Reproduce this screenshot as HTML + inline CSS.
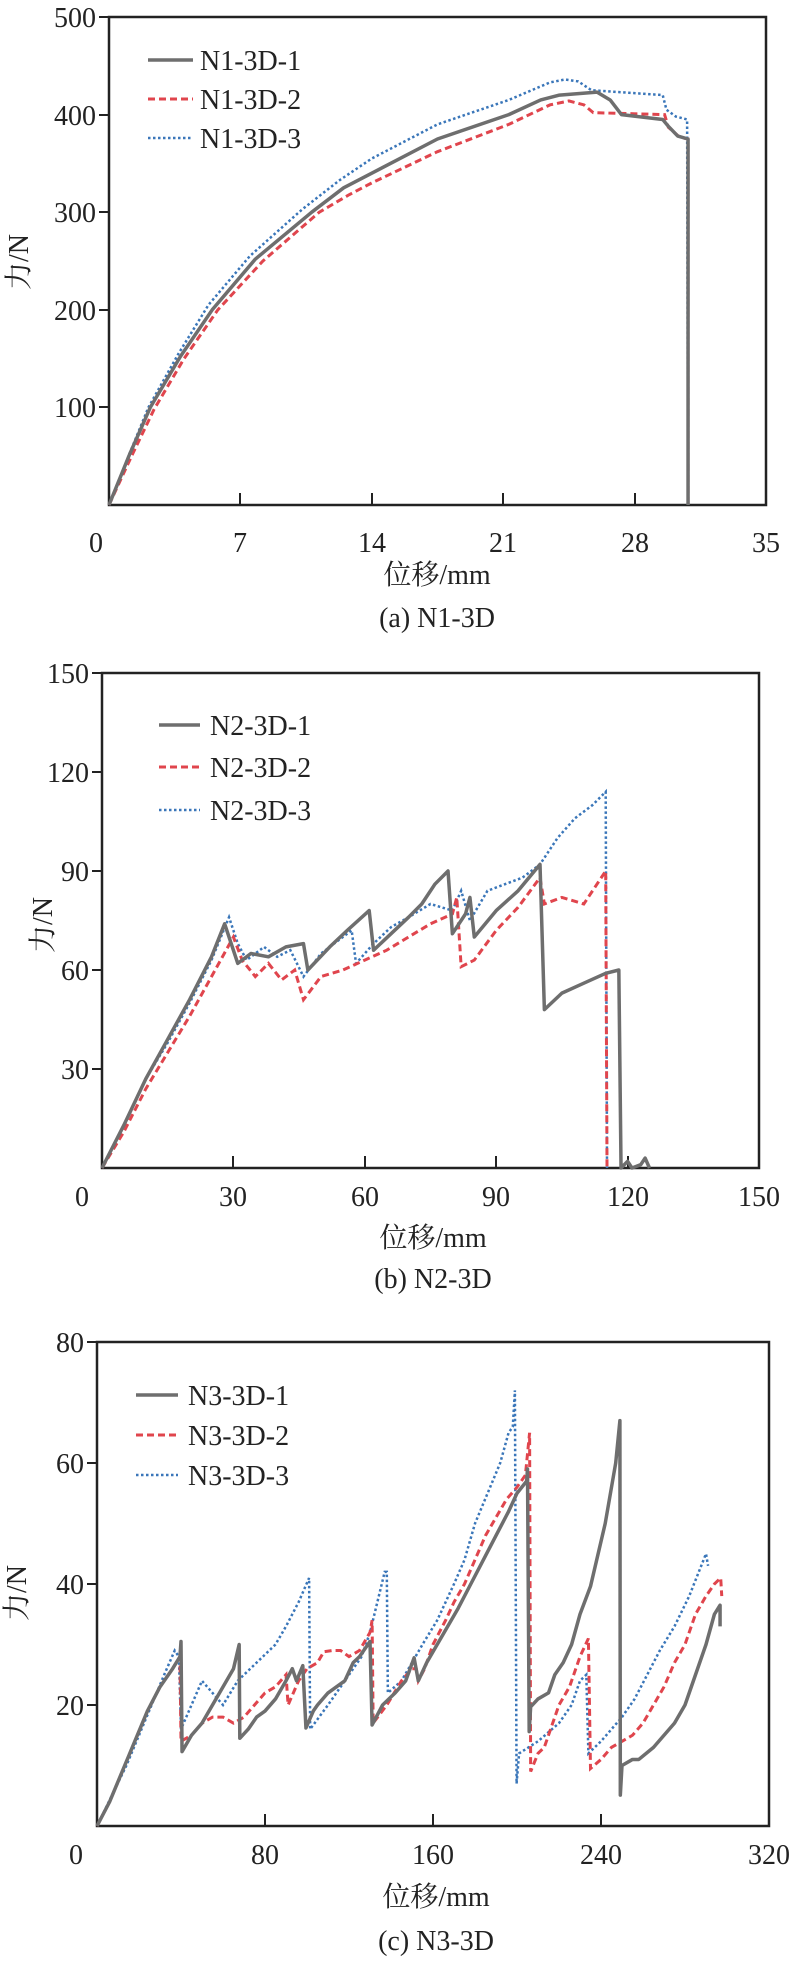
<!DOCTYPE html>
<html><head><meta charset="utf-8"><style>
html,body{margin:0;padding:0;background:#fff;}
svg{display:block;}
text{font-family:"Liberation Serif","Noto Serif CJK SC","Noto Sans CJK SC",serif;fill:#222;font-size:28px;}
.g{fill:none;stroke:#6e6e6e;stroke-width:3.5;vector-effect:non-scaling-stroke;stroke-linejoin:round;}
.r{fill:none;stroke:#e0454d;stroke-width:3;stroke-dasharray:7 4;vector-effect:non-scaling-stroke;}
.b{fill:none;stroke:#3a76b9;stroke-width:2.5;stroke-dasharray:2.5 2.5;vector-effect:non-scaling-stroke;}
.ax{fill:none;stroke:#222;stroke-width:2.5;}
</style></head><body>
<svg width="789" height="1961" viewBox="0 0 789 1961" xmlns="http://www.w3.org/2000/svg">
<!-- Panel A -->
<rect class="ax" x="109" y="17" width="657" height="488"/>
<g stroke="#222" stroke-width="2">
<line x1="99" y1="17" x2="109" y2="17"/><line x1="99" y1="115" x2="109" y2="115"/><line x1="99" y1="212" x2="109" y2="212"/><line x1="99" y1="310" x2="109" y2="310"/><line x1="99" y1="407" x2="109" y2="407"/>
<line x1="240" y1="505" x2="240" y2="493"/><line x1="372" y1="505" x2="372" y2="493"/><line x1="503" y1="505" x2="503" y2="493"/><line x1="635" y1="505" x2="635" y2="493"/>
</g>
<g text-anchor="end"><text x="96" y="27">500</text><text x="96" y="125">400</text><text x="96" y="222">300</text><text x="96" y="320">200</text><text x="96" y="417">100</text></g>
<g text-anchor="middle"><text x="96" y="552">0</text><text x="240" y="552">7</text><text x="372" y="552">14</text><text x="503" y="552">21</text><text x="635" y="552">28</text><text x="766" y="552">35</text>
<text x="437" y="584">位移/mm</text><text x="437" y="627">(a) N1-3D</text></g>
<text transform="translate(28,262) rotate(-90)" text-anchor="middle">力/N</text>
<g transform="translate(109,505) scale(18.77,-0.976)">
<polyline class="b" points="0,0 1.1,53 2.1,100 3.7,155 5.3,205 7.5,255 10.3,303 12.3,333 14,355 17.5,390 21.3,415 23.5,433 24.3,436 25,434 25.7,425 29.5,420 29.7,405 30.2,398 30.8,395 30.85,0"/>
<polyline class="r" points="0,0 1.2,50 2.4,98 4,150 5.8,200 8.2,250 11.2,300 12.8,318 14,330 17.5,362 21.3,390 23.5,410 24.5,414 25.3,410 25.8,402 29.6,400 29.8,387 30.4,377 30.85,375 30.85,0"/>
<polyline class="g" points="0,0 1.1,52 2.2,100 3.8,152 5.5,200 7.8,252 10.8,300 12.5,325 14,340 17.5,375 21.3,400 23,415 24,420 26,423 26.7,415 27.3,400 29.5,395 29.8,388 30.3,378 30.85,375 30.85,0"/>
</g>
<line class="g" x1="148" y1="60" x2="193" y2="60"/><line class="r" x1="148" y1="99" x2="193" y2="99"/><line class="b" x1="148" y1="138" x2="193" y2="138"/>
<text x="200" y="70">N1-3D-1</text><text x="200" y="109">N1-3D-2</text><text x="200" y="148">N1-3D-3</text>

<!-- Panel B -->
<rect class="ax" x="102" y="673" width="657" height="495"/>
<g stroke="#222" stroke-width="2">
<line x1="92" y1="673" x2="102" y2="673"/><line x1="92" y1="772" x2="102" y2="772"/><line x1="92" y1="871" x2="102" y2="871"/><line x1="92" y1="970" x2="102" y2="970"/><line x1="92" y1="1069" x2="102" y2="1069"/>
<line x1="233" y1="1168" x2="233" y2="1156"/><line x1="365" y1="1168" x2="365" y2="1156"/><line x1="496" y1="1168" x2="496" y2="1156"/><line x1="628" y1="1168" x2="628" y2="1156"/>
</g>
<g text-anchor="end"><text x="89" y="683">150</text><text x="89" y="782">120</text><text x="89" y="881">90</text><text x="89" y="980">60</text><text x="89" y="1079">30</text></g>
<g text-anchor="middle"><text x="82" y="1206">0</text><text x="233" y="1206">30</text><text x="365" y="1206">60</text><text x="496" y="1206">90</text><text x="628" y="1206">120</text><text x="759" y="1206">150</text>
<text x="433" y="1247">位移/mm</text><text x="433" y="1288">(b) N2-3D</text></g>
<text transform="translate(52,925) rotate(-90)" text-anchor="middle">力/N</text>
<g transform="translate(102,1168) scale(4.38,-3.3)">
<polyline class="b" points="0,0 5,13 10,27 15,38 20,50 25,63 29,76 31,68 33,63 37,67 40,64 43,66 46,58 50,65 55,70 57,72 58,62 62,68 66,73 70,76 75,80 80,78 82,84 84,75 88,84 92,86 96,88 100,92 104,100 108,106 112,110 115,114 115.3,0"/>
<polyline class="r" points="0,0 5,11 10,24 15,35 20,46 25,58 30,70 32,63 35,58 38,62 41,57 44,60 46,51 50,58 55,60 60,63 65,66 70,70 75,74 80,77 81,82 82,61 85,63 90,72 95,79 100,88 101,80 105,82 110,80 113,86 115,90 115.3,0"/>
<polyline class="g" points="0,0 5,13 10,27 15,39 20,51 25,64 28,74 31,62 34,65 38,64 42,67 46,68 47,60 52,67 56,72 61,78 62,66 66,71 70,76 73,80 76,86 79,90 80,71 83,77 84,82 85,70 90,78 95,84 100,92 101,48 105,53 110,56 115,59 118,60 118.5,0 120,2 121,0 123,1 124,3 125,0"/>
</g>
<line class="g" x1="159" y1="725" x2="200" y2="725"/><line class="r" x1="159" y1="767" x2="200" y2="767"/><line class="b" x1="159" y1="810" x2="200" y2="810"/>
<text x="210" y="735">N2-3D-1</text><text x="210" y="777">N2-3D-2</text><text x="210" y="820">N2-3D-3</text>

<!-- Panel C -->
<rect class="ax" x="97" y="1342" width="672" height="484"/>
<g stroke="#222" stroke-width="2">
<line x1="87" y1="1342" x2="97" y2="1342"/><line x1="87" y1="1463" x2="97" y2="1463"/><line x1="87" y1="1584" x2="97" y2="1584"/><line x1="87" y1="1705" x2="97" y2="1705"/>
<line x1="265" y1="1826" x2="265" y2="1814"/><line x1="433" y1="1826" x2="433" y2="1814"/><line x1="601" y1="1826" x2="601" y2="1814"/>
</g>
<g text-anchor="end"><text x="84" y="1352">80</text><text x="84" y="1473">60</text><text x="84" y="1594">40</text><text x="84" y="1715">20</text></g>
<g text-anchor="middle"><text x="76" y="1864">0</text><text x="265" y="1864">80</text><text x="433" y="1864">160</text><text x="601" y="1864">240</text><text x="769" y="1864">320</text>
<text x="436" y="1906">位移/mm</text><text x="436" y="1950">(c) N3-3D</text></g>
<text transform="translate(26,1593) rotate(-90)" text-anchor="middle">力/N</text>
<g transform="translate(97,1826) scale(2.1,-6.05)">
<polyline class="b" points="0,0 7,5 14,10 20,15 26,20 32,25 37,29 39,28 40,16 45,20 50,24 55,22 60,20 67,24 73,26 79,28 85,30 90,33 96,37 101,41 101.5,16 110,20 120,25 126,28 130,32 137,42 138,42 138.5,22 145,24 150,27 155,30 162,34 170,40 175,44 180,50 186,55 192,60 196,65 198,66 199,72 199.8,7 201,12 210,14 220,17 226,20 230,24 233,25 234,12 240,14 250,18 256,21 262,25 268,29 275,33 282,38 290,45 291,43"/>
<polyline class="r" points="0,0 6,4 12,9 18,14 24,19 30,23 36,26 39.5,28 40,14 45,15 50,17 55,18 60,18 65,17 70,18 75,20 80,22 85,23 90,25 91,20 96,24 100,26 105,27 108,28.8 112,29 116,29 120,28 125,29 130,32 131,34 131.5,17 138,20 145,24 150,26 152,26 153,24 156,26 160,30 166,34 170,37 175,40 180,44 185,48 190,51 195,54 200,56 204,58 206,65 206.5,9 210,12 213,13 220,20 225,23 230,28 234,31 235,9.5 240,11 245,13 250,14 255,15 260,17 265,20 270,23 275,27 280,30 285,35 290,38 294,40 297,41 297.5,38"/>
<polyline class="g" points="0,0 6,4 12,9 18,14 24,19 30,23 36,26 39.5,28 40,30.5 40.5,12.3 45,15 50,17 55,20 60,23 65,26 67.7,30 68,14.5 72,16 76,18 80,19 85,21 90,24 93,26 95,24 98,26.5 99.5,16.2 103,19 105,20 110,22 118,24 122,27 125,28 130,30.5 131,16.7 136,20 142,22 147,24 151,27.8 153,24 157,27 162,30 167,33 172,36 178,40 184,44 190,48 196,52 200,55 204.6,57 205,59 205.8,15.6 206.5,19.7 210,21 215,22 218,25 222,27 226,30 230,35 235,39.6 242,50 247,60 249,67 249.2,5.1 250,10 255,11 258,11 265,13 270,15 275,17 280,20 285,25 290,30 294,35 296.7,36.5 296.7,33"/>
</g>
<line class="g" x1="136" y1="1395" x2="178" y2="1395"/><line class="r" x1="136" y1="1435" x2="178" y2="1435"/><line class="b" x1="136" y1="1475" x2="178" y2="1475"/>
<text x="188" y="1405">N3-3D-1</text><text x="188" y="1445">N3-3D-2</text><text x="188" y="1485">N3-3D-3</text>
</svg>
</body></html>
